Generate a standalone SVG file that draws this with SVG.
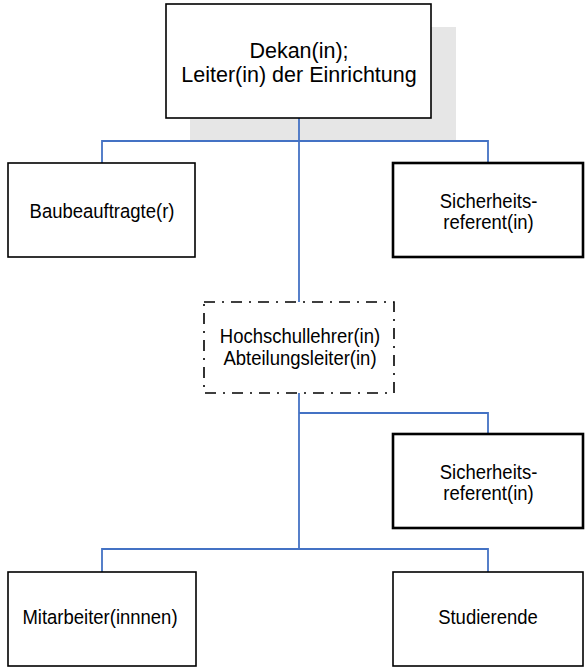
<svg xmlns="http://www.w3.org/2000/svg" width="585" height="668" viewBox="0 0 585 668">
<style>
.box{fill:#fff;stroke:#000;stroke-width:1.6}
.thick{stroke-width:2.6}
.dash{fill:#fff;stroke:#000;stroke-width:1.6;stroke-dasharray:11 7 2 7}
.conn{fill:none;stroke:#4472C4;stroke-width:1.8}
text{font-family:"Liberation Sans",Arial,sans-serif;fill:#000;text-anchor:middle}
.t{font-size:18.5px}
.big{font-size:21.5px}
</style>
<rect x="190" y="27" width="266" height="115" fill="#E6E6E6"/>
<g id="connectors">
<path class="conn" d="M299 118V302"/>
<path class="conn" d="M102 163V141H488V163"/>
<path class="conn" d="M299 393V549"/>
<path class="conn" d="M299 413H488V434"/>
<path class="conn" d="M102 572V549H488V572"/>
</g>
<g id="dekan">
<rect class="box" x="166" y="4" width="265" height="114"/>
<text class="big" x="299" y="58">Dekan(in);</text>
<text class="big" x="299" y="82">Leiter(in) der Einrichtung</text>
</g>
<g id="baubeauftragte">
<rect class="box" x="8" y="163" width="187" height="94"/>
<text class="t" transform="translate(102,217.5) scale(1,1.12)">Baubeauftragte(r)</text>
</g>
<g id="sicherheit1">
<rect class="box thick" x="393" y="163" width="190" height="94"/>
<text class="t" transform="translate(488.5,207.5) scale(1,1.12)">Sicherheits-<tspan x="0" dy="19.6">referent(in)</tspan></text>
</g>
<g id="hochschullehrer">
<rect class="dash" x="204" y="302" width="190" height="91"/>
<text class="t" transform="translate(300,343.3) scale(1,1.12)">Hochschullehrer(in)<tspan x="0" dy="19.6">Abteilungsleiter(in)</tspan></text>
</g>
<g id="sicherheit2">
<rect class="box thick" x="393" y="434" width="190" height="94"/>
<text class="t" transform="translate(488.5,478.5) scale(1,1.12)">Sicherheits-<tspan x="0" dy="19.6">referent(in)</tspan></text>
</g>
<g id="mitarbeiter">
<rect class="box" x="8" y="572" width="188" height="94"/>
<text class="t" transform="translate(100,624.3) scale(1,1.12)">Mitarbeiter(innnen)</text>
</g>
<g id="studierende">
<rect class="box" x="393" y="572" width="190" height="94"/>
<text class="t" transform="translate(488,624.3) scale(1,1.12)">Studierende</text>
</g>
</svg>
